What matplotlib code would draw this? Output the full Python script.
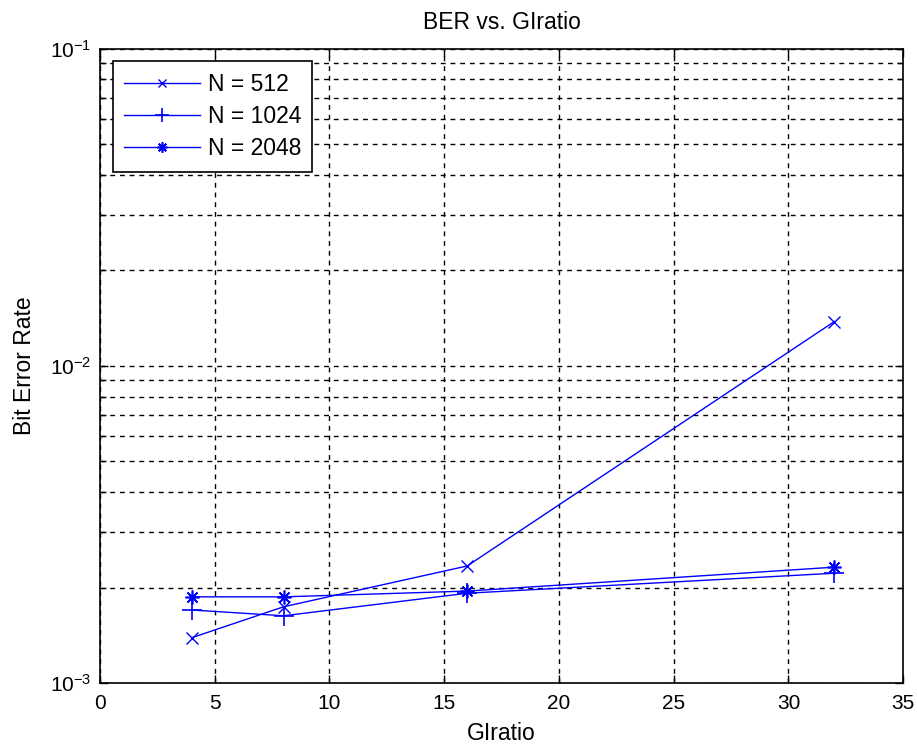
import matplotlib.pyplot as plt
from matplotlib.ticker import LogLocator, NullFormatter

plt.rcParams['font.family'] = ['Liberation Sans', 'DejaVu Sans']
plt.rcParams['mathtext.fontset'] = 'custom'
plt.rcParams['mathtext.rm'] = 'Liberation Sans'
plt.rcParams['mathtext.it'] = 'Liberation Sans'

# 보호 구간 비율 (GIratio)
gi_ratio = [4, 8, 16, 32]

# FFT 크기별 비트 오류율
ber_512 = [1.39e-3, 1.74e-3, 2.34e-3, 1.38e-2]
ber_1024 = [1.70e-3, 1.63e-3, 1.92e-3, 2.22e-3]
ber_2048 = [1.87e-3, 1.87e-3, 1.95e-3, 2.32e-3]

series_labels = ['N = 512', 'N = 1024', 'N = 2048']

fig = plt.figure(figsize=(9.17, 7.49), dpi=100)
ax = fig.add_axes([0.109, 0.088, 0.876, 0.847])

ax.plot(gi_ratio, ber_512, color='blue', lw=1.0, marker='x', ms=8, mew=1.0, label=series_labels[0])
ax.plot(gi_ratio, ber_1024, color='blue', lw=1.0, marker='+', ms=14, mew=1.2, label=series_labels[1])
ax.plot(gi_ratio, ber_2048, color='blue', lw=1.0, marker=(8, 2, 0), ms=10, mew=1.2, label=series_labels[2])

ax.set_yscale('log')
ax.set_xlim(0, 35)
ax.set_ylim(1e-3, 1e-1)
ax.set_xticks(range(0, 36, 5))
ax.yaxis.set_major_locator(LogLocator(base=10))
ax.yaxis.set_minor_locator(LogLocator(base=10, subs=range(2, 10)))
ax.yaxis.set_minor_formatter(NullFormatter())
ax.set_yticks([1e-3, 1e-2, 1e-1])
ax.set_yticklabels([r'$10^{-3}$', r'$10^{-2}$', r'$10^{-1}$'])

ax.grid(True, which='both', color='black', linestyle=(0, (3.5, 3.5)), linewidth=1.0)
ax.tick_params(which='both', direction='in', top=True, right=True, labelsize=15, length=6, width=1)
ax.tick_params(axis='x', pad=8)
ax.tick_params(axis='y', pad=6)
ax.tick_params(which='minor', length=4)
for s in ax.spines.values():
    s.set_linewidth(1.2)

ax.set_title('BER vs. GIratio', fontsize=16.5, pad=14)
ax.set_xlabel('GIratio', fontsize=16.5, labelpad=6)
ax.set_ylabel('Bit Error Rate', fontsize=16.5, labelpad=10)

leg = ax.legend(loc='upper left', numpoints=1, fontsize=16.5, fancybox=False, framealpha=1,
                edgecolor='black', handlelength=3.3, handletextpad=0.35, borderaxespad=0.55,
                borderpad=0.5, labelspacing=0.4)
leg.get_frame().set_linewidth(1.2)
# 범례 안의 마커는 조금 작게
for h in leg.legend_handles:
    h.set_markersize(h.get_markersize() * 0.75)

plt.savefig('out.png', dpi=100)
plt.close()
